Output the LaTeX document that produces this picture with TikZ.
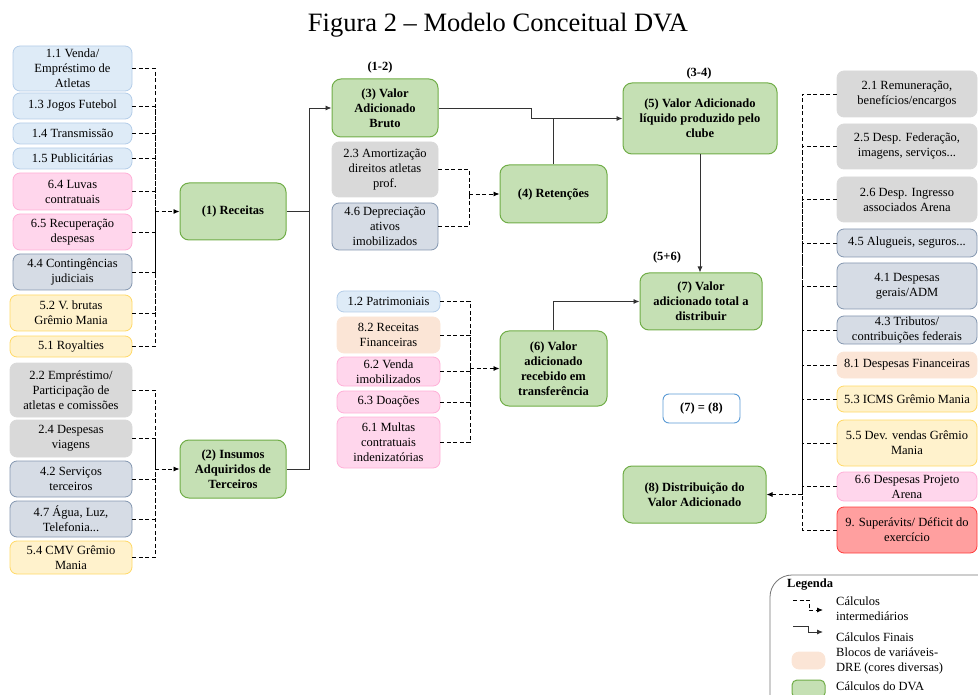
\documentclass[tikz,border=0pt]{standalone}
\usepackage{fontspec}
\setmainfont{Liberation Serif}
\usetikzlibrary{arrows.meta}

\definecolor{azulF}{HTML}{DEEBF7}
\definecolor{azulB}{HTML}{B4CDE8}
\definecolor{rosaF}{HTML}{FFD6EC}
\definecolor{rosaB}{HTML}{FFB0D8}
\definecolor{ardosiaF}{HTML}{D6DCE5}
\definecolor{ardosiaB}{HTML}{8497B0}
\definecolor{amareloF}{HTML}{FFF2CC}
\definecolor{amareloB}{HTML}{FFD966}
\definecolor{cinzaF}{HTML}{D9D9D9}
\definecolor{pessegoF}{HTML}{FBE5D6}
\definecolor{verdeF}{HTML}{C5E0B4}
\definecolor{verdeB}{HTML}{70AD47}
\definecolor{vermelhoF}{HTML}{FF9F9F}
\definecolor{vermelhoB}{HTML}{FF3B3B}
\definecolor{igualB}{HTML}{5B9BD5}

\begin{document}
\begin{tikzpicture}[x=1pt,y=-1pt,
		every node/.style = {font=\fontsize{12.5}{15}\selectfont, align=center, inner sep=1pt},
		bloco/.style = {rounded corners=7pt, line width=0.8pt},
		azul/.style = {bloco, fill=azulF, draw=azulB},
		rosa/.style = {bloco, fill=rosaF, draw=rosaB},
		ardosia/.style = {bloco, fill=ardosiaF, draw=ardosiaB},
		amarelo/.style = {bloco, fill=amareloF, draw=amareloB},
		cinza/.style = {bloco, fill=cinzaF, draw=cinzaF},
		pessego/.style = {bloco, fill=pessegoF, draw=pessegoF},
		vermelho/.style = {bloco, fill=vermelhoF, draw=vermelhoB},
		calculo/.style = {rounded corners=9pt, fill=verdeF, draw=verdeB, line width=1pt,
			font=\fontsize{12.5}{15}\selectfont\bfseries},
		rotulo/.style = {font=\fontsize{12.5}{15}\selectfont\bfseries},
		tracejado/.style = {line width=0.9pt, dash pattern=on 4pt off 2.5pt},
		cheio/.style = {line width=0.9pt, black!80},
		seta/.style = {-{Latex[length=6pt,width=5pt]}}]
	\useasboundingbox (0,0) rectangle (978,695);

	\node (titulo) at (498,25) {\fontsize{26.5}{30}\selectfont Figura 2 -- Modelo Conceitual DVA};

	% receitas
	\node[azul, minimum width=119, minimum height=45] (v11) at (72.5,68.5) {1.1 Venda/\\Empréstimo de\\Atletas};
	\node[azul, minimum width=119, minimum height=26] (v13) at (72.5,106) {1.3 Jogos Futebol};
	\node[azul, minimum width=119, minimum height=21] (v14) at (72.5,133.5) {1.4 Transmissão};
	\node[azul, minimum width=119, minimum height=21] (v15) at (72.5,158.5) {1.5 Publicitárias};
	\node[rosa, minimum width=119, minimum height=37] (v64) at (72.5,191.5) {6.4 Luvas\\contratuais};
	\node[rosa, minimum width=119, minimum height=36] (v65) at (72.5,232) {6.5 Recuperação\\despesas};
	\node[ardosia, minimum width=119, minimum height=36] (v44) at (72.5,272) {4.4 Contingências\\judiciais};
	\node[amarelo, minimum width=122, minimum height=36] (v52) at (71,313) {5.2 V. brutas\\Grêmio Mania};
	\node[amarelo, minimum width=122, minimum height=21] (v51) at (71,346.5) {5.1 Royalties};
	\node[calculo, minimum width=106, minimum height=57] (rec) at (233,211.5) {(1) Receitas};
	\coordinate (jrec) at (155,211.5);
	\foreach \n in {v11,v13,v14,v15,v64,v65,v44,v52,v51}
		\draw[tracejado] (\n.east) -| (jrec);
	\draw[tracejado, seta] (jrec) -- (rec);

	% insumos
	\node[cinza, minimum width=122, minimum height=54] (v22) at (71,390) {2.2 Empréstimo/\\Participação de\\atletas e comissões};
	\node[cinza, minimum width=122, minimum height=37] (v24) at (71,438.5) {2.4 Despesas\\viagens};
	\node[ardosia, minimum width=122, minimum height=36] (v42) at (71,479) {4.2 Serviços\\terceiros};
	\node[ardosia, minimum width=122, minimum height=36] (v47) at (71,519) {4.7 Água, Luz,\\Telefonia...};
	\node[amarelo, minimum width=122, minimum height=33] (v54) at (71,557.5) {5.4 CMV Grêmio\\Mania};
	\node[calculo, minimum width=106, minimum height=58] (ins) at (233,469) {(2) Insumos\\Adquiridos de\\Terceiros};
	\coordinate (jins) at (155,469);
	\foreach \n in {v22,v24,v42,v47,v54}
		\draw[tracejado] (\n.east) -| (jins);
	\draw[tracejado, seta] (jins) -- (ins);

	% valor adicionado bruto e retencoes
	\node[calculo, minimum width=106, minimum height=58] (vab) at (385,108) {(3) Valor\\Adicionado\\Bruto};
	\node[rotulo] (l12) at (380,67) {(1-2)};
	\coordinate (jvab) at (309,108);
	\draw[cheio] (rec.east) -| (jvab);
	\draw[cheio] (ins.east) -| (jvab);
	\draw[cheio, seta] (jvab) -- (vab);

	\node[cinza, minimum width=106, minimum height=55] (v23) at (385,169.5) {2.3 Amortização\\direitos atletas\\prof.};
	\node[ardosia, minimum width=106, minimum height=47] (v46) at (385,226.5) {4.6 Depreciação\\ativos\\imobilizados};
	\node[calculo, minimum width=107, minimum height=58] (ret) at (553.5,194) {(4) Retenções};
	\coordinate (jret) at (469,194);
	\draw[tracejado] (v23.east) -| (jret);
	\draw[tracejado] (v46.east) -| (jret);
	\draw[tracejado, seta] (jret) -- (ret);

	% valor liquido
	\node[calculo, minimum width=154, minimum height=71] (vl) at (700,118.5) {(5) Valor Adicionado\\líquido produzido pelo\\clube};
	\node[rotulo] (l34) at (699,73) {(3-4)};
	\draw[cheio, seta] (vab.east) -- (531,108) |- (vl.west);
	\draw[cheio] (ret.north) -- (ret.north |- vl.west);

	% transferencias
	\node[azul, minimum width=103, minimum height=21] (v12) at (388.5,301.5) {1.2 Patrimoniais};
	\node[pessego, minimum width=103, minimum height=36] (v82) at (388.5,335) {8.2 Receitas\\Financeiras};
	\node[rosa, minimum width=103, minimum height=29] (v62) at (388.5,371.5) {6.2 Venda\\imobilizados};
	\node[rosa, minimum width=103, minimum height=22] (v63) at (388.5,402) {6.3 Doações};
	\node[rosa, minimum width=103, minimum height=51] (v61) at (388.5,442.5) {6.1 Multas\\contratuais\\indenizatórias};
	\node[calculo, minimum width=107, minimum height=75] (vr) at (553.5,368.5) {(6) Valor\\adicionado\\recebido em\\transferência};
	\coordinate (jvr) at (470,368.5);
	\foreach \n in {v12,v82,v62,v63,v61}
		\draw[tracejado] (\n.east) -| (jvr);
	\draw[tracejado, seta] (jvr) -- (vr);

	% valor total
	\node[calculo, minimum width=122, minimum height=57] (vt) at (701,301.5) {(7) Valor\\adicionado total a\\distribuir};
	\node[rotulo] (l56) at (667,257) {(5+6)};
	\draw[cheio, seta] (vl.south) -- (vl.south |- vt.north);
	\draw[cheio, seta] (vr.north) |- (vt.west);

	\node[rotulo, rounded corners=6pt, draw=igualB, fill=white, line width=0.9pt,
		minimum width=77, minimum height=29] (igual) at (701.5,408.5) {(7) = (8)};

	% distribuicao
	\node[calculo, minimum width=143, minimum height=57] (dist) at (694.5,494.5) {(8) Distribuição do\\Valor Adicionado};
	\node[cinza, minimum width=140, minimum height=46] (r21) at (907,94) {2.1 Remuneração,\\benefícios/encargos};
	\node[cinza, minimum width=140, minimum height=45] (r25) at (907,146.5) {2.5 Desp. Federação,\\imagens, serviços...};
	\node[cinza, minimum width=140, minimum height=45] (r26) at (907,199.5) {2.6 Desp. Ingresso\\associados Arena};
	\node[ardosia, minimum width=140, minimum height=28] (r45) at (907,243) {4.5 Alugueis, seguros...};
	\node[ardosia, minimum width=140, minimum height=46] (r41) at (907,286) {4.1 Despesas\\gerais/ADM};
	\node[ardosia, minimum width=140, minimum height=28, inner sep=0pt] (r43) at (907,330) {4.3 Tributos/\\contribuições federais};
	\node[pessego, minimum width=140, minimum height=26] (r81) at (907,365) {8.1 Despesas Financeiras};
	\node[amarelo, minimum width=140, minimum height=26] (r53) at (907,399) {5.3 ICMS Grêmio Mania};
	\node[amarelo, minimum width=140, minimum height=46] (r55) at (907,443) {5.5 Dev. vendas Grêmio\\Mania};
	\node[rosa, minimum width=140, minimum height=29, inner sep=0pt] (r66) at (907,486.5) {6.6 Despesas Projeto\\Arena};
	\node[vermelho, minimum width=140, minimum height=46] (r9) at (907,530) {9. Superávits/ Déficit do\\exercício};
	\coordinate (jdist) at (802,494.5);
	\foreach \n in {r21,r25,r26,r45,r41,r43,r81,r53,r55,r66,r9}
		\draw[tracejado] (\n.west) -| (jdist);
	\draw[tracejado, seta] (jdist) -- (dist);

	% legenda
	\draw[rounded corners=22pt, draw=black!55, line width=0.8pt] (770,575) rectangle (1000,720);
	\node[rotulo, anchor=west] (leg) at (786,585) {Legenda};
	\coordinate (ltr) at (793,600);
	\draw[tracejado, seta] (ltr) -| ++(16,10) -- ++(14,0);
	\node[anchor=west, align=left] (ltrt) at (835,608.5) {Cálculos\\intermediários};
	\coordinate (lch) at (793,626);
	\draw[cheio, seta] (lch) -| ++(15,6) -- ++(15,0);
	\node[anchor=west] (lcht) at (835,637) {Cálculos Finais};
	\node[pessego, minimum width=33, minimum height=17] (lbl) at (808.5,660.5) {};
	\node[anchor=west, align=left] (lblt) at (835,661) {Blocos de variáveis-\\DRE (cores diversas)};
	\node[calculo, rounded corners=5pt, minimum width=33, minimum height=18] (lcd) at (808.5,689) {};
	\node[anchor=west] (lcdt) at (835,686) {Cálculos do DVA};
\end{tikzpicture}
\end{document}
